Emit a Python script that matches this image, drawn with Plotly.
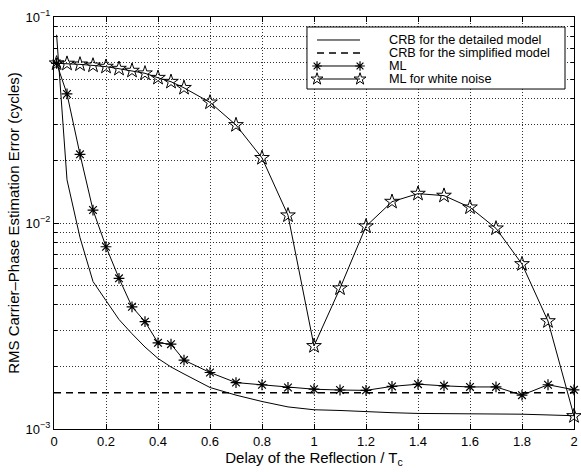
import plotly.graph_objects as go

# ---------------- data ----------------
delay = [0.01, 0.05, 0.1, 0.15, 0.2, 0.25, 0.3, 0.35, 0.4, 0.45, 0.5,
         0.6, 0.7, 0.8, 0.9, 1.0, 1.1, 1.2, 1.3, 1.4, 1.5, 1.6, 1.7, 1.8, 1.9, 2.0]

crb_detailed = [0.082, 0.0162, 0.0085, 0.0052, 0.0042, 0.0034, 0.0029, 0.0025, 0.0022,
                0.0020, 0.00185, 0.00159, 0.00146, 0.00136, 0.00128, 0.00124, 0.00123,
                0.00122, 0.00120, 0.00119, 0.00119, 0.00118, 0.00118, 0.00118, 0.00117, 0.00116]

crb_simplified_x = [0.0, 2.0]
crb_simplified = [0.0015, 0.0015]

ml = [0.0596, 0.0423, 0.02154, 0.01156, 0.00767, 0.00539, 0.00392, 0.00332, 0.00262,
      0.00258, 0.00216, 0.00188, 0.00168, 0.00164, 0.00159, 0.00156, 0.001546, 0.00154,
      0.00161, 0.00165, 0.00162, 0.00160, 0.00160, 0.00146, 0.00164, 0.00155]

ml_white = [0.0596, 0.0594, 0.0589, 0.0582, 0.0574, 0.0561, 0.0549, 0.0533, 0.0507,
            0.0485, 0.0453, 0.0385, 0.0299, 0.0207, 0.0109, 0.00253, 0.00482, 0.00964,
            0.01269, 0.01388, 0.01358, 0.01191, 0.00942, 0.00632, 0.00334, 0.001156]

x_tickvals = [0, 0.2, 0.4, 0.6, 0.8, 1.0, 1.2, 1.4, 1.6, 1.8, 2.0]
x_ticktext = ["0", "0.2", "0.4", "0.6", "0.8", "1", "1.2", "1.4", "1.6", "1.8", "2"]
y_tickvals = [1e-3, 1e-2, 1e-1]
y_ticktext = ["10<sup>\u22123</sup>", "10<sup>\u22122</sup>", "10<sup>\u22121</sup>"]

legend_labels = ["CRB for the detailed model", "CRB for the simplified model",
                 "ML", "ML for white noise"]

# ---------------- styling ----------------
FONT = "Liberation Sans, Arial, sans-serif"
BLACK = "#000000"
GRID = "#303030"
GRIDDASH = "1px,2px"

fig = go.Figure()

fig.add_trace(go.Scatter(x=delay, y=crb_detailed, mode="lines",
                         line=dict(color=BLACK, width=1), showlegend=False))
fig.add_trace(go.Scatter(x=crb_simplified_x, y=crb_simplified, mode="lines",
                         line=dict(color=BLACK, width=1.3, dash="7px,5px"), showlegend=False))
fig.add_trace(go.Scatter(x=delay, y=ml, mode="lines+markers",
                         line=dict(color=BLACK, width=1),
                         marker=dict(symbol="asterisk-open", size=9,
                                     line=dict(color=BLACK, width=1.2)),
                         showlegend=False, cliponaxis=False))
fig.add_trace(go.Scatter(x=delay, y=ml_white, mode="lines+markers",
                         line=dict(color=BLACK, width=1),
                         marker=dict(symbol="star-open", size=11, color=BLACK,
                                     line=dict(color=BLACK, width=1)),
                         showlegend=False, cliponaxis=False))

# ---------------- manual legend on an overlay (0..1) axis ----------------
box = dict(x0=0.4865, x1=0.9827, y0=0.8252, y1=0.9757)
rows_y = [0.9442, 0.9126, 0.8811, 0.8495]
sx0, sx1, tx = 0.5058, 0.5885, 0.6404

fig.add_trace(go.Scatter(
    x=[box["x0"], box["x1"], box["x1"], box["x0"], box["x0"]],
    y=[box["y0"], box["y0"], box["y1"], box["y1"], box["y0"]],
    xaxis="x2", yaxis="y2", mode="lines", fill="toself", fillcolor="white",
    line=dict(color=BLACK, width=1), showlegend=False, hoverinfo="skip"))

styles = [
    dict(mode="lines", line=dict(color=BLACK, width=1)),
    dict(mode="lines", line=dict(color=BLACK, width=1.3, dash="7px,5px")),
    dict(mode="lines+markers", line=dict(color=BLACK, width=1),
         marker=dict(symbol="asterisk-open", size=8, line=dict(color=BLACK, width=1.2))),
    dict(mode="lines+markers", line=dict(color=BLACK, width=1),
         marker=dict(symbol="star-open", size=9, color=BLACK, line=dict(color=BLACK, width=1))),
]
for ry, st, lab in zip(rows_y, styles, legend_labels):
    fig.add_trace(go.Scatter(x=[sx0, sx1], y=[ry, ry], xaxis="x2", yaxis="y2",
                             showlegend=False, hoverinfo="skip", **st))
    fig.add_annotation(x=tx, y=ry, xref="x2", yref="y2", text=lab,
                       showarrow=False, xanchor="left", yanchor="middle",
                       font=dict(family=FONT, size=12.7, color=BLACK))

axis_common = dict(showline=True, linecolor=BLACK, linewidth=1, mirror="ticks",
                   ticks="inside", tickcolor=BLACK, showgrid=True, gridcolor=GRID,
                   gridwidth=1, griddash=GRIDDASH, zeroline=False, automargin=False,
                   tickfont=dict(family=FONT, size=13, color=BLACK))

minor_y = [m * 10 ** e for e in (-3, -2) for m in range(2, 10)]

fig.update_layout(
    width=581, height=472,
    margin=dict(l=54, r=7, t=17, b=43),
    paper_bgcolor="white", plot_bgcolor="white",
    font=dict(family=FONT, color=BLACK),
    xaxis=dict(range=[0, 2], tickvals=x_tickvals, ticktext=x_ticktext, ticklen=5,
               title=dict(text="Delay of the Reflection / T<sub>c</sub>",
                          font=dict(family=FONT, size=15, color=BLACK), standoff=0),
               **axis_common),
    yaxis=dict(type="log", range=[-3, -1], tickvals=y_tickvals, ticktext=y_ticktext,
               ticklen=5,
               minor=dict(tickvals=minor_y, ticks="inside", ticklen=3, tickcolor=BLACK,
                          showgrid=True, gridcolor=GRID, gridwidth=1, griddash=GRIDDASH),
               title=dict(text="RMS Carrier\u2013Phase Estimation Error (cycles)",
                          font=dict(family=FONT, size=15, color=BLACK), standoff=2),
               **axis_common),
    xaxis2=dict(overlaying="x", range=[0, 1], visible=False, fixedrange=True),
    yaxis2=dict(overlaying="y", range=[0, 1], visible=False, fixedrange=True),
    showlegend=False,
)

fig.write_html("out.html",
               config={"displayModeBar": False},
               post_script="document.body.style.margin='0px';"
                           "document.body.style.padding='0px';"
                           "document.body.style.overflow='hidden';")
